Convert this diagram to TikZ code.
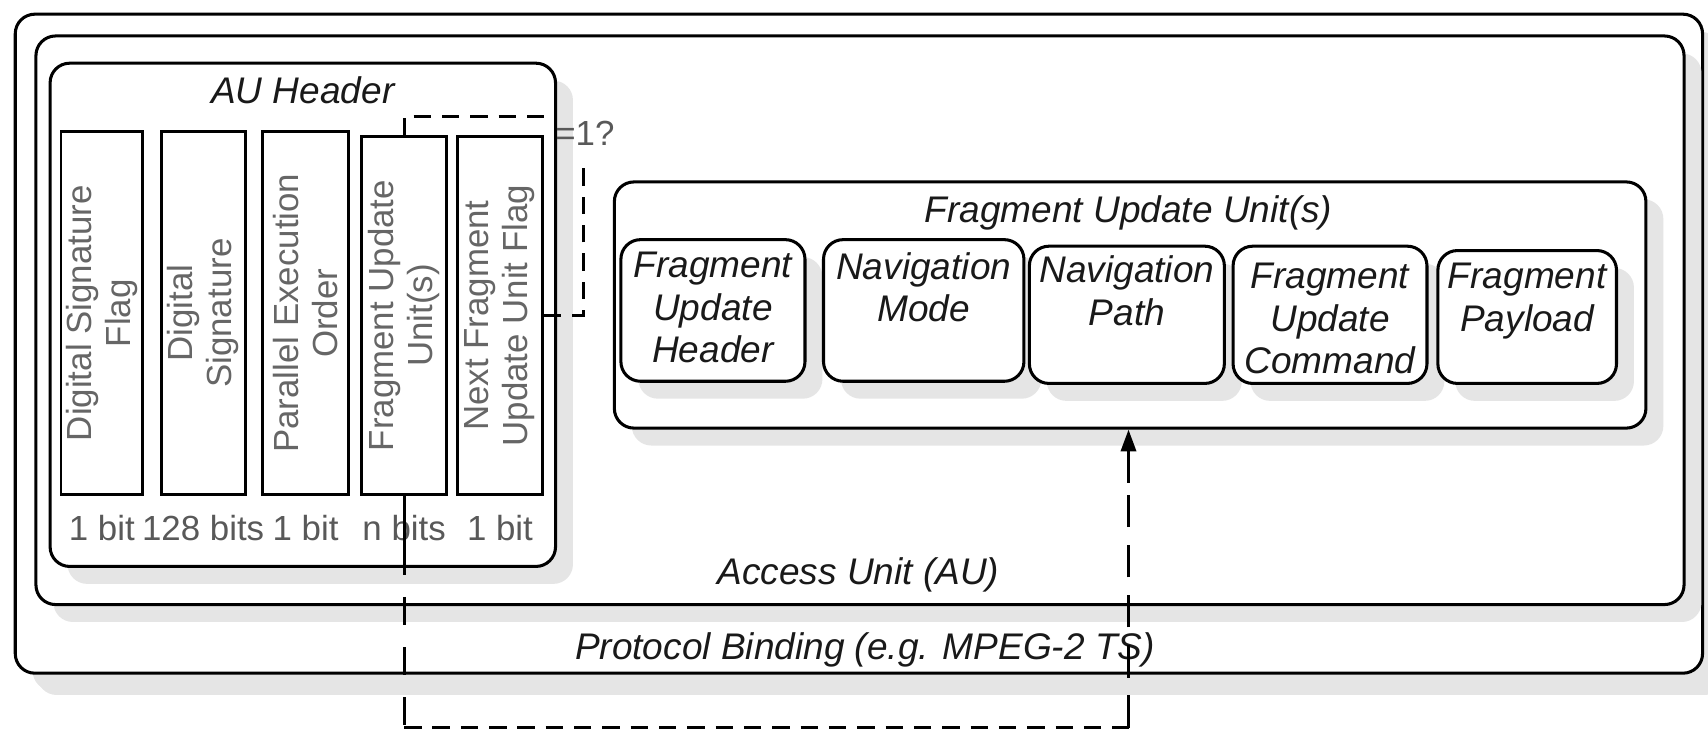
\documentclass[tikz,border=0pt]{standalone}
\usepackage{fontspec}
\setmainfont{Liberation Sans}
\usetikzlibrary{shadows,fit,arrows.meta}

\begin{document}
\begin{tikzpicture}[x=0.5pt,y=-0.5pt,
  shadowed/.style={drop shadow={shadow xshift=#1, shadow yshift=-#1, fill=black!10, opacity=1}},
  rbox/.style={draw, line width=1.4pt, rounded corners=9pt, fill=white, inner sep=0pt, shadowed=8pt},
  fieldbox/.style={draw, line width=1.3pt, fill=white, inner sep=0pt},
  vlabel/.style={rotate=90, align=center, inner sep=0pt, text=black!60,
    font=\fontsize{16pt}{18pt}\selectfont},
  bits/.style={anchor=base, inner sep=0pt, text=black!65,
    font=\fontsize{16pt}{18pt}\selectfont},
  title/.style={anchor=base, inner sep=0pt, text=black!90,
    font=\fontsize{17pt}{19.5pt}\selectfont\itshape},
  ulabel/.style={anchor=north, align=center, inner sep=0pt, text=black!90,
    font=\fontsize{17pt}{19.5pt}\selectfont\itshape},
  link/.style={line width=1.3pt},
  dashlink/.style={line width=1.3pt, dash pattern=on 8pt off 5pt},
]
\useasboundingbox (0,0) rectangle (1568,671);

% nested containers
\node[rbox, shadowed=10pt, fit={(14,13) (1563,618)}] (pb) {};
\node[rbox, fit={(33,33) (1546,555)}] (au) {};
\node[rbox, fit={(46,58) (510,520)}] (hdr) {};
\node[rbox, fit={(564,167) (1511,393)}] (fuu) {};

% parts of a fragment update unit
\node[rbox, fit={(570,220) (739,350)}] (fuh) {};
\node[rbox, fit={(756,220) (940,350)}] (nm) {};
\node[rbox, fit={(945,226) (1124,352)}] (np) {};
\node[rbox, fit={(1132,226) (1310,352)}] (fuc) {};
\node[rbox, fit={(1320,230) (1484,352)}] (fp) {};

% AU header fields
\node[fieldbox, fit={(56,121) (131,454)}] (f1) {};
\node[fieldbox, fit={(148,121) (225,454)}] (f2) {};
\node[fieldbox, fit={(241,121) (320,454)}] (f3) {};
\node[fieldbox, fit={(332,125.5) (410,454)}] (f4) {};
\node[fieldbox, fit={(420,125.5) (498,454)}] (f5) {};

\node[vlabel] (t1) at (f1.center) {Digital Signature\\Flag};
\node[vlabel] (t2) at (f2.center) {Digital\\Signature};
\node[vlabel] (t3) at (f3.center) {Parallel Execution\\Order};
\node[vlabel] (t4) at (f4.center) {Fragment Update\\Unit(s)};
\node[vlabel] (t5) at (f5.center) {Next Fragment\\Update Unit Flag};

% field sizes
\coordinate (bitsrow) at (0,496);
\node[bits] (b1) at (f1.center |- bitsrow) {1 bit};
\node[bits] (b2) at (f2.center |- bitsrow) {128 bits};
\node[bits] (b3) at (f3.center |- bitsrow) {1 bit};
\node[bits] (b4) at (f4.center |- bitsrow) {n bits};
\node[bits] (b5) at (f5.center |- bitsrow) {1 bit};

% container titles
\node[title] (hdrt) at (278,95) {AU Header};
\node[title] (fuut) at (1036,204) {Fragment Update Unit(s)};
\node[title] (aut) at (788,537) {Access Unit (AU)};
\node[title] (pbt) at (794,605) {Protocol Binding (e.g. MPEG-2 TS)};

\node[ulabel] (fuht) at ([yshift=-6.3pt]fuh.north) {Fragment\\Update\\Header};
\node[ulabel] (nmt) at ([yshift=-6.3pt]nm.north) {Navigation\\Mode};
\node[ulabel] (npt) at ([yshift=-5pt]np.north) {Navigation\\Path};
\node[ulabel] (fuct) at ([yshift=-8.3pt]fuc.north) {Fragment\\Update\\Command};
\node[ulabel] (fpt) at ([yshift=-6.3pt]fp.north) {Fragment\\Payload};

% loop back while the next-unit flag is set
\coordinate (lpR) at (536,145);
\coordinate (lpT) at (499,107);
\node[bits] (eq) at (537,133.5) {=1?};
\draw[dashlink] (f5.east) -| (lpR);
\draw[dashlink] (f4.north) |- (lpT);

% units feed the fragment update unit structure
\coordinate (rA) at (371,528);
\coordinate (rB) at (371,668);
\coordinate (rC) at (1036,668);
\coordinate (rD) at (1036,443);
\draw[link] (f4.south) -- (rA);
\draw[link, dash pattern=on 13pt off 10pt, dash phase=13pt] (rA) -- (rB);
\draw[dashlink] (rB) -- (rC);
\draw[link, dash pattern=on 15pt off 8pt] (rC) -- (rD);
\draw[link, -{Triangle[length=10pt,width=7pt]}] (rD) -- (rD |- fuu.south);
\end{tikzpicture}
\end{document}
